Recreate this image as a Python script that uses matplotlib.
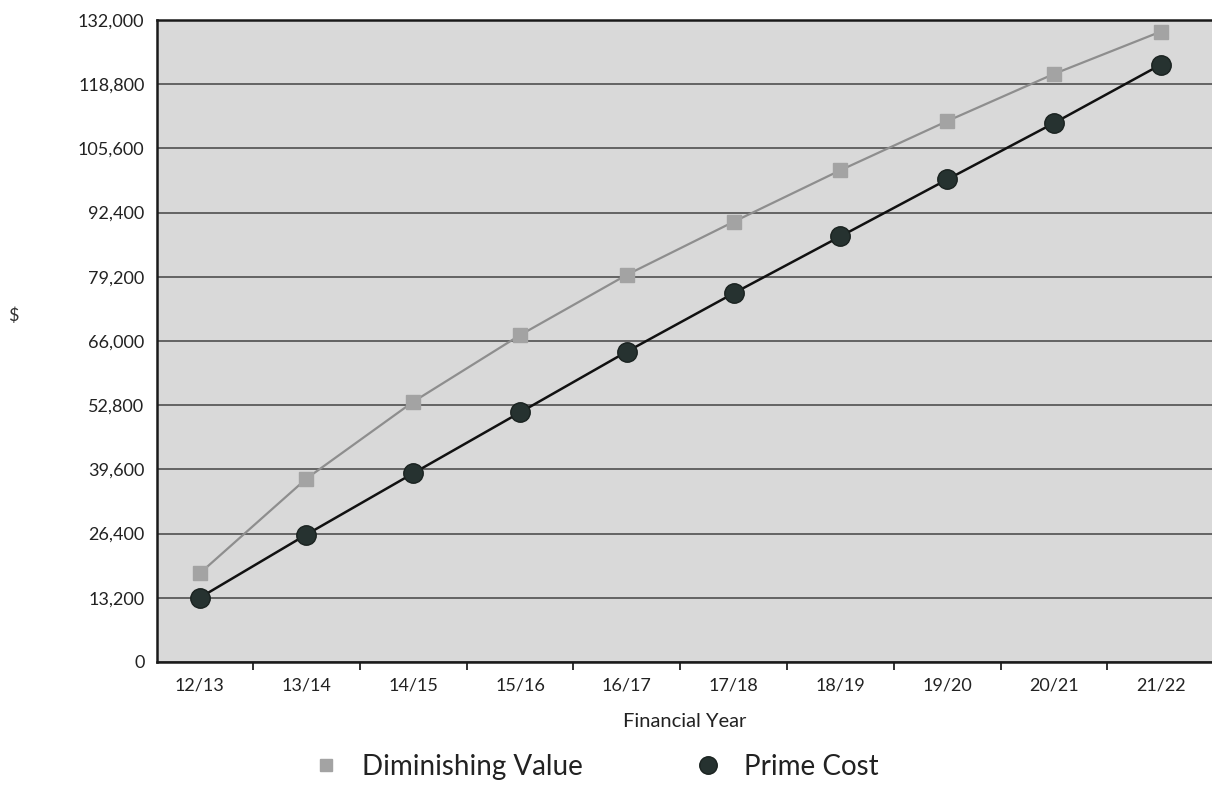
import matplotlib
import matplotlib.pyplot as plt
from matplotlib.ticker import FuncFormatter

matplotlib.use('Agg')

years = ['12/13', '13/14', '14/15', '15/16', '16/17', '17/18', '18/19', '19/20', '20/21', '21/22']
diminishing_value = [18200, 37700, 53500, 67200, 79600, 90500, 101100, 111200, 120900, 129600]
prime_cost = [13200, 26200, 38800, 51300, 63800, 75800, 87500, 99200, 110800, 122800]
y_ticks = [0, 13200, 26400, 39600, 52800, 66000, 79200, 92400, 105600, 118800, 132000]

plt.rcParams['font.family'] = ['Lato', 'DejaVu Sans']

fig = plt.figure(figsize=(12.12, 7.89), dpi=100)
ax = fig.add_axes([0.1295, 0.161, 0.8705, 0.8137])
ax.set_facecolor('#d9d9d9')

x = list(range(len(years)))
ax.plot(x, diminishing_value, color='#8e8e8e', linewidth=1.6, marker='s', markersize=10,
        markerfacecolor='#a3a3a3', markeredgecolor='#a3a3a3', label='Diminishing Value', zorder=3)
ax.plot(x, prime_cost, color='#111111', linewidth=1.8, marker='o', markersize=14,
        markerfacecolor='#263230', markeredgecolor='#1a2220', label='Prime Cost', zorder=4)

ax.set_xlim(-0.40, 9.48)
ax.set_ylim(0, 132000)
ax.set_yticks(y_ticks)
ax.yaxis.set_major_formatter(FuncFormatter(lambda v, p: f'{int(v):,}'))
ax.tick_params(axis='y', length=0, pad=9, labelsize=13, labelcolor='#222222')
ax.grid(axis='y', color='#5a5a5a', linewidth=1.3)
ax.set_axisbelow(True)

ax.set_xticks(x)
ax.set_xticklabels(years)
ax.set_xticks([i + 0.5 for i in x[:-1]], minor=True)
ax.tick_params(axis='x', which='major', length=0, pad=11, labelsize=13, labelcolor='#222222')
ax.tick_params(axis='x', which='minor', length=6, width=1.3, color='#222222', direction='out')

for s in ['left', 'bottom', 'top']:
    ax.spines[s].set_color('#1a1a1a')
    ax.spines[s].set_linewidth(1.8)
ax.spines['right'].set_visible(False)

ax.set_xlabel('Financial Year', fontsize=14.5, color='#222222', labelpad=14)
fig.text(0.011, 0.60, '$', fontsize=13, color='#333333', ha='center', va='center')

handles, labels = ax.get_legend_handles_labels()
leg = fig.legend(handles, labels, loc='center', bbox_to_anchor=(0.491, 0.028), ncol=2,
                 frameon=False, fontsize=20, columnspacing=4.0, handletextpad=0.8,
                 handlelength=1.0, markerscale=0.9)
for line in leg.get_lines():
    line.set_linestyle('none')
for t in leg.get_texts():
    t.set_color('#222222')

plt.savefig('out.png', dpi=100)
plt.close()
